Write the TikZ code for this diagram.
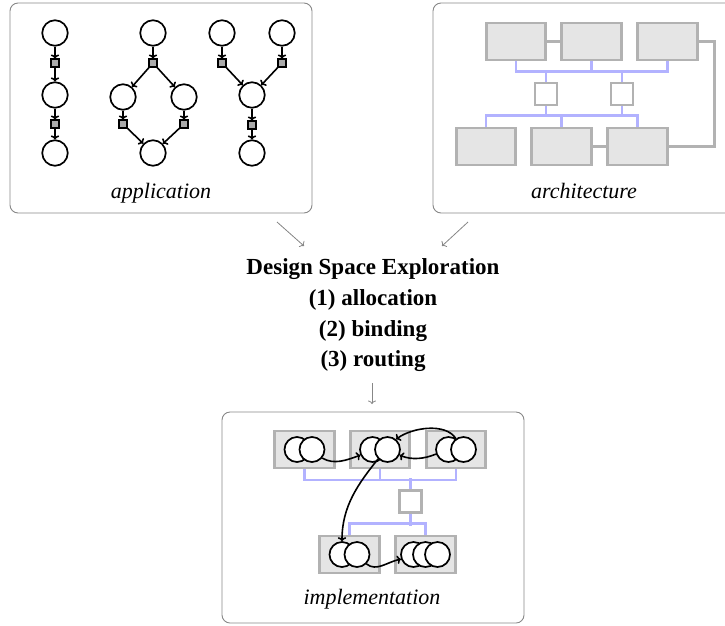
\documentclass[tikz,border=0pt]{standalone}
\usepackage{fontspec}
\setmainfont{Liberation Serif}
\usetikzlibrary{arrows.meta}
\definecolor{panelgray}{RGB}{135,135,135}
\definecolor{boxfill}{RGB}{229,229,229}
\definecolor{boxdraw}{RGB}{178,178,178}
\definecolor{busblue}{RGB}{178,178,255}
\definecolor{sqfill}{RGB}{170,170,170}
\begin{document}
\begin{tikzpicture}[x=1pt,y=-1pt,
  panel/.style={draw=panelgray, line width=0.9pt, rounded corners=8pt, minimum width=302pt, minimum height=210pt, inner sep=0pt},
  task/.style={circle, draw=black, fill=white, line width=1.7pt, minimum size=25.5pt, inner sep=0pt},
  itask/.style={circle, draw=black, fill=white, line width=1.7pt, minimum size=25pt, inner sep=0pt},
  msg/.style={rectangle, draw=black, fill=sqfill, line width=1.1pt, minimum size=8pt, inner sep=0pt},
  dep/.style={draw=black, line width=1.6pt, -{To[length=4pt,width=8.5pt]}},
  res/.style={rectangle, draw=boxdraw, fill=boxfill, line width=2.8pt, minimum width=59.5pt, minimum height=37pt, inner sep=0pt},
  router/.style={rectangle, draw=boxdraw, fill=white, line width=2.8pt, minimum size=22pt, inner sep=0pt},
  bus/.style={draw=busblue, line width=2.6pt},
  link/.style={draw=boxdraw, line width=2.8pt},
  flow/.style={draw=panelgray, line width=0.8pt, -{To[length=3.5pt,width=8pt]}},
  lbl/.style={font=\fontsize{22}{26}\selectfont\itshape, inner sep=0pt},
  dse/.style={font=\fontsize{23}{30.7}\selectfont\bfseries, align=center, inner sep=0pt}
]
\clip (0,0) rectangle (725,625);

% panels
\node[panel] (apppanel) at (161,108) {};
\node[panel] (archpanel) at (584,108) {};
\node[panel, minimum height=211pt] (implpanel) at (373,517.5) {};

\node[lbl, anchor=base] (applbl) at (161,198) {application};
\node[lbl, anchor=base] (archlbl) at (584,198) {architecture};
\node[lbl, anchor=base] (impllbl) at (372,604) {implementation};

% ---------------- application ----------------
% chain
\node[task] (t11) at (55,33) {};
\node[msg]  (m11) at (55,63) {};
\node[task] (t12) at (55,95) {};
\node[msg]  (m12) at (55,124) {};
\node[task] (t13) at (55,153) {};
\draw[dep] (t11) -- (m11);
\draw[dep] (m11) -- (t12);
\draw[dep] (t12) -- (m12);
\draw[dep] (m12) -- (t13);
% fork-join
\node[task] (t21) at (153,33) {};
\node[msg]  (m21) at (153,63) {};
\node[task] (t22) at (123,97) {};
\node[task] (t23) at (184,97) {};
\node[msg]  (m22) at (123,124) {};
\node[msg]  (m23) at (184,124) {};
\node[task] (t24) at (153,153) {};
\draw[dep] (t21) -- (m21);
\draw[dep] (m21) -- (t22);
\draw[dep] (m21) -- (t23);
\draw[dep] (t22) -- (m22);
\draw[dep] (t23) -- (m23);
\draw[dep] (m22) -- (t24);
\draw[dep] (m23) -- (t24);
% join
\node[task] (t31) at (222,33) {};
\node[task] (t32) at (282,33) {};
\node[msg]  (m31) at (222,63) {};
\node[msg]  (m32) at (282,63) {};
\node[task] (t33) at (252,95) {};
\node[msg]  (m33) at (252,125) {};
\node[task] (t34) at (252,153) {};
\draw[dep] (t31) -- (m31);
\draw[dep] (t32) -- (m32);
\draw[dep] (m31) -- (t33);
\draw[dep] (m32) -- (t33);
\draw[dep] (t33) -- (m33);
\draw[dep] (m33) -- (t34);

% ---------------- architecture ----------------
\node[res] (a1) at (516,41.5) {};
\node[res] (a2) at (591.5,41.5) {};
\node[res] (a3) at (667.5,41.5) {};
\node[res] (a4) at (486,146.5) {};
\node[res] (a5) at (561.5,146.5) {};
\node[res] (a6) at (637.5,146.5) {};
\node[router] (r1) at (546,94) {};
\node[router] (r2) at (622,94) {};
\draw[bus] (a1.south) -- ++(0,10) -| (a3.south);
\draw[bus] (a2.south) -- ++(0,10);
\draw[bus] (r1.north) -- ++(0,-12);
\draw[bus] (r2.north) -- ++(0,-12);
\draw[bus] (a4.north) -- ++(0,-11) -| (a6.north);
\draw[bus] (a5.north) -- ++(0,-11);
\draw[bus] (r1.south) -- ++(0,11);
\draw[bus] (r2.south) -- ++(0,11);
\draw[link] (a1.east) -- (a2.west);
\draw[link] (a5.east) -- (a6.west);
\draw[link] (a3.east) -- ++(15.5,0) |- (a6.east);

% ---------------- DSE ----------------
\node[dse, anchor=north] (dse) at (373,258.6) {Design Space Exploration\\(1) allocation\\(2) binding\\(3) routing};
\coordinate (f1s) at (277,222);
\coordinate (f1e) at (304,246);
\coordinate (f2s) at (468,222);
\coordinate (f2e) at (442,246);
\coordinate (f3s) at (372,383);
\coordinate (f3e) at (372,404);
\draw[flow] (f1s) -- (f1e);
\draw[flow] (f2s) -- (f2e);
\draw[flow] (f3s) -- (f3e);

% ---------------- implementation ----------------
\node[res] (iA) at (304.5,449.5) {};
\node[res] (iB) at (380,449.5) {};
\node[res] (iC) at (456,449.5) {};
\node[res] (iD) at (349.5,554.5) {};
\node[res] (iE) at (425.5,554.5) {};
\node[router] (ir) at (410.5,501.5) {};
\draw[bus] (iA.south) -- ++(0,10.5) -| (iC.south);
\draw[bus] (iB.south) -- ++(0,10.5);
\draw[bus] (ir.north) -- ++(0,-11.5);
\draw[bus] (iD.north) -- ++(0,-11) -| (iE.north);
\draw[bus] (ir.south) -- ++(0,12);

\node[itask] (cA1) at (297,449.5) {};
\node[itask] (cA2) at (312,449.5) {};
\node[itask] (cB1) at (372.5,449.5) {};
\node[itask] (cB2) at (387.5,449.5) {};
\node[itask] (cC1) at (448.5,449.5) {};
\node[itask] (cC2) at (463.5,449.5) {};
\node[itask] (cD1) at (342,554.5) {};
\node[itask] (cD2) at (357,554.5) {};
\node[itask] (cE1) at (413.5,554.5) {};
\node[itask] (cE2) at (425.5,554.5) {};
\node[itask] (cE3) at (437.5,554.5) {};

\draw[dep] (cA2.-40) .. controls +(12,7) and +(-14,5) .. (cB1.205);
\draw[dep] (cC1.200) .. controls +(-12,5) and +(12,5) .. (cB2.-25);
\draw[dep] (cC2.125) .. controls +(-10,-16) and +(16,-12) .. (cB2.50);
\draw[dep] (cB2.225) .. controls +(-20,25) and +(0,-35) .. (cD1.north);
\draw[dep] (cD2.-45) .. controls +(10,8) and +(-14,3) .. (cE1.200);
\end{tikzpicture}
\end{document}
